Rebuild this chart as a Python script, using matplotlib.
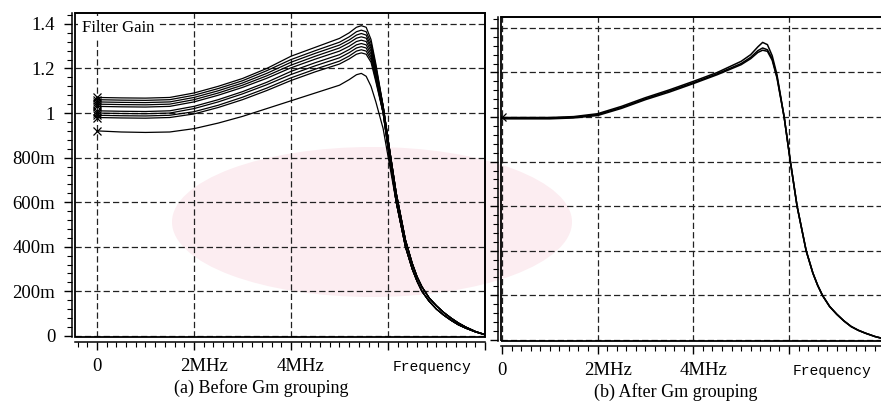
import matplotlib
matplotlib.use('Agg')
import matplotlib.pyplot as plt
import matplotlib.transforms as mtrans
from matplotlib.patches import Ellipse, Rectangle
from matplotlib.ticker import MultipleLocator

# frequency points (MHz)
freq_head = [0, 0.5, 1.0, 1.5, 2.0, 2.5, 3.0, 3.5, 4.0, 4.5, 5.0, 5.2, 5.35, 5.45, 5.55, 5.65, 5.75]
freq_tail = [5.9, 6.03, 6.17, 6.36, 6.5, 6.6, 6.7, 6.85, 7.0, 7.15, 7.3, 7.45, 7.6, 7.8, 8.0]

# (a) before Gm grouping - passband part of each curve
before_heads = [
    [1.070, 1.068, 1.067, 1.070, 1.090, 1.120, 1.155, 1.200, 1.255, 1.295, 1.335, 1.360, 1.385, 1.392, 1.385, 1.330, 1.220],
    [1.060, 1.058, 1.057, 1.060, 1.080, 1.110, 1.145, 1.190, 1.240, 1.280, 1.318, 1.342, 1.365, 1.372, 1.365, 1.315, 1.210],
    [1.050, 1.048, 1.047, 1.050, 1.070, 1.100, 1.135, 1.178, 1.228, 1.268, 1.305, 1.328, 1.350, 1.357, 1.350, 1.300, 1.200],
    [1.040, 1.038, 1.037, 1.040, 1.060, 1.090, 1.125, 1.167, 1.215, 1.255, 1.292, 1.315, 1.336, 1.342, 1.336, 1.290, 1.190],
    [1.030, 1.028, 1.027, 1.030, 1.050, 1.080, 1.115, 1.156, 1.203, 1.242, 1.278, 1.300, 1.321, 1.327, 1.321, 1.278, 1.180],
    [1.010, 1.008, 1.007, 1.010, 1.030, 1.060, 1.096, 1.138, 1.187, 1.226, 1.262, 1.285, 1.306, 1.312, 1.306, 1.265, 1.170],
    [1.000, 0.998, 0.997, 1.000, 1.020, 1.050, 1.086, 1.127, 1.173, 1.212, 1.248, 1.271, 1.292, 1.298, 1.292, 1.252, 1.160],
    [0.990, 0.988, 0.987, 0.990, 1.006, 1.035, 1.071, 1.112, 1.158, 1.197, 1.233, 1.256, 1.278, 1.284, 1.278, 1.240, 1.150],
    [0.980, 0.978, 0.977, 0.980, 0.996, 1.025, 1.060, 1.101, 1.146, 1.185, 1.220, 1.243, 1.264, 1.270, 1.264, 1.228, 1.140],
    [0.920, 0.915, 0.913, 0.915, 0.930, 0.955, 0.985, 1.020, 1.055, 1.090, 1.125, 1.150, 1.172, 1.178, 1.165, 1.120, 1.050],
]
# stopband parts (curves bunch together here)
tail_late = [1.03, 0.84, 0.64, 0.43, 0.325, 0.265, 0.22, 0.17, 0.135, 0.105, 0.08, 0.058, 0.04, 0.02, 0.006]
tail_early = [1.00, 0.80, 0.60, 0.40, 0.30, 0.245, 0.20, 0.155, 0.12, 0.093, 0.07, 0.05, 0.035, 0.018, 0.005]
tail_low = [0.93, 0.77, 0.60, 0.40, 0.30, 0.245, 0.20, 0.155, 0.12, 0.093, 0.07, 0.05, 0.035, 0.018, 0.005]
before_tails = [tail_late] * 5 + [tail_early] * 4 + [tail_low]

# (b) after Gm grouping
after_heads = [
    [0.998, 0.998, 0.998, 1.002, 1.015, 1.048, 1.087, 1.122, 1.160, 1.200, 1.250, 1.280, 1.315, 1.335, 1.325, 1.275, 1.190],
    [0.995, 0.995, 0.995, 0.999, 1.011, 1.043, 1.082, 1.117, 1.154, 1.194, 1.240, 1.268, 1.298, 1.310, 1.302, 1.262, 1.180],
    [0.992, 0.992, 0.992, 0.996, 1.007, 1.039, 1.078, 1.112, 1.150, 1.190, 1.235, 1.262, 1.290, 1.300, 1.295, 1.255, 1.175],
]
after_tail = [1.00, 0.80, 0.60, 0.40, 0.30, 0.245, 0.20, 0.15, 0.115, 0.085, 0.06, 0.043, 0.03, 0.015, 0.004]

y_ticks = [0, 0.2, 0.4, 0.6, 0.8, 1.0, 1.2, 1.4]
y_labels = ['0', '200m', '400m', '600m', '800m', '1', '1.2', '1.4']
x_ticks = [0, 2, 4, 6, 8]
x_labels = ['0', '2MHz', '4MHz', '', '']

SERIF = 'Liberation Serif'
GRID = dict(color='#222222', linestyle=(0, (5, 2.5)), linewidth=0.9)

fig = plt.figure(figsize=(8.81, 4.03), dpi=100)
fig.patch.set_facecolor('white')

# faint watermark of the scanned page
fig.patches.append(Ellipse((372 / 881, 1 - 222 / 403), 400 / 881, 150 / 403,
                           transform=fig.transFigure, facecolor='#fcedf1',
                           edgecolor='none', zorder=-5))

ax1 = fig.add_axes([75 / 881, 1 - 337 / 403, 410 / 881, 324 / 403])
ax2 = fig.add_axes([501 / 881, 1 - 341 / 403, 386 / 881, 324 / 403])


def style_axis(ax, xlim, show_ylabels):
    ax.set_facecolor('none')
    ax.set_xlim(*xlim)
    ax.set_ylim(-0.005, 1.449)
    ax.set_yticks(y_ticks)
    ax.set_yticklabels(y_labels if show_ylabels else [])
    ax.set_xticks(x_ticks)
    ax.set_xticklabels(x_labels)
    ax.yaxis.set_minor_locator(MultipleLocator(0.04))
    ax.xaxis.set_minor_locator(MultipleLocator(0.2))
    ax.grid(True, which='major', **GRID)

    # the axis lines sit a little outside the plot box
    ax.spines['left'].set_position(('outward', 2.2))
    ax.spines['bottom'].set_position(('outward', 3.3))
    for s in ax.spines.values():
        s.set_linewidth(1.1)
    ax.add_patch(Rectangle((0, 0), 1, 1, transform=ax.transAxes, fill=False,
                           lw=1.3, edgecolor='black', clip_on=False, zorder=5))

    ax.tick_params(axis='both', which='major', direction='out', length=6,
                   width=1, pad=6, labelsize=13.5)
    ax.tick_params(axis='both', which='minor', direction='out', length=3.5, width=0.8)
    for lab in ax.get_xticklabels() + ax.get_yticklabels():
        lab.set_family(SERIF)

    offset = mtrans.ScaledTranslation(0.10, 0, fig.dpi_scale_trans)
    for lab in ax.get_xticklabels()[1:]:
        lab.set_transform(lab.get_transform() + offset)

    ax.text(6.9, -0.093, 'Frequency', transform=ax.get_xaxis_transform(),
            ha='center', va='center', family='Liberation Mono', fontsize=10.5)


style_axis(ax1, (-0.453, 8.0), True)
style_axis(ax2, (-0.02, 8.05), False)

for head, tail in zip(before_heads, before_tails):
    ax1.plot(freq_head + freq_tail, head + tail, color='black', lw=0.9, zorder=3)
    ax1.plot(freq_head[0], head[0], marker='x', color='black', ms=6, mew=0.9, zorder=4)

for head in after_heads:
    ax2.plot(freq_head + freq_tail, head + after_tail, color='black', lw=1.1, zorder=3)
ax2.plot(freq_head[0], after_heads[0][0], marker='x', color='black', ms=6, mew=0.9, zorder=4)

ax1.text(0.017, 0.954, 'Filter Gain', transform=ax1.transAxes, ha='left', va='center',
         family=SERIF, fontsize=12,
         bbox=dict(facecolor='white', edgecolor='none', pad=3), zorder=4)

fig.text(0.297, 0.037, '(a) Before Gm grouping', ha='center', va='center',
         family=SERIF, fontsize=13)
fig.text(0.767, 0.027, '(b) After Gm grouping', ha='center', va='center',
         family=SERIF, fontsize=13)

fig.savefig('out.png', dpi=100)
